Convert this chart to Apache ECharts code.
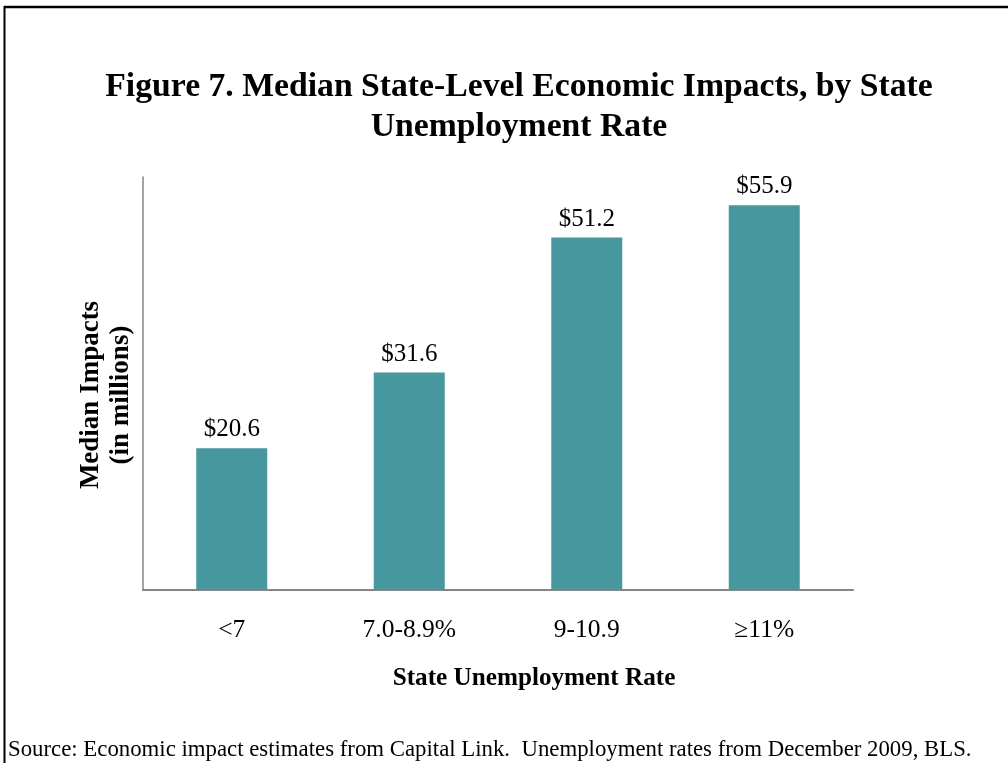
<!DOCTYPE html>
<html>
<head>
<meta charset="utf-8">
<script src="https://cdn.jsdelivr.net/npm/echarts@6/dist/echarts.min.js"></script>
<style>
html,body{margin:0;padding:0;background:#fff;}
#chart{width:1008px;height:763px;}
</style>
</head>
<body>
<div id="chart"></div>
<script>
const categories = ['<7', '7.0-8.9%', '9-10.9', '\u226511%'];
const values = [20.6, 31.6, 51.2, 55.9];
const titleText = 'Figure 7. Median State-Level Economic Impacts, by State\nUnemployment Rate';
const yAxisTitle = 'Median Impacts\n(in millions)';
const xAxisTitle = 'State Unemployment Rate';
const sourceText = 'Source: Economic impact estimates from Capital Link.  Unemployment rates from December 2009, BLS.';

const FONT = '"Liberation Serif", "Times New Roman", serif';
const chart = echarts.init(document.getElementById('chart'), null, {renderer: 'canvas'});
chart.setOption({
  backgroundColor: '#ffffff',
  animation: false,
  title: {
    text: titleText,
    left: 514, top: 62, textAlign: 'center',
    textStyle: {fontFamily: FONT, fontWeight: 'bold', fontSize: 33.7, lineHeight: 40, color: '#000'}
  },
  grid: {left: 143, right: 155, top: 177, bottom: 173, containLabel: false},
  xAxis: {
    type: 'category',
    data: categories,
    axisLine: {lineStyle: {color: '#868686', width: 2}},
    axisTick: {show: false},
    axisLabel: {fontFamily: FONT, fontSize: 25.5, color: '#000', margin: 27},
    name: xAxisTitle,
    nameLocation: 'middle',
    nameGap: 76,
    nameTextStyle: {fontFamily: FONT, fontSize: 25.2, fontWeight: 'bold', color: '#000', padding: [0, 0, 0, 72]}
  },
  yAxis: {
    type: 'value',
    min: 0, max: 60,
    axisLine: {show: true, lineStyle: {color: '#868686', width: 1.5}},
    axisTick: {show: false},
    axisLabel: {show: false},
    splitLine: {show: false}
  },
  series: [{
    type: 'bar',
    data: values,
    barWidth: '40%',
    itemStyle: {color: '#46979e'},
    label: {
      show: true, position: 'top', distance: 6,
      fontFamily: FONT, fontSize: 25, color: '#000',
      formatter: p => '$' + p.value.toFixed(1)
    }
  }],
  graphic: [
    {type: 'line', shape: {x1: 4, y1: 7, x2: 1008, y2: 7}, style: {stroke: '#000', lineWidth: 2.5}},
    {type: 'line', shape: {x1: 4.5, y1: 6, x2: 4.5, y2: 763}, style: {stroke: '#000', lineWidth: 2}},
    {type: 'text', x: 106, y: 395, rotation: Math.PI / 2, style: {
      text: yAxisTitle, fontFamily: FONT, fontWeight: 'bold', fontSize: 27, lineHeight: 30,
      fill: '#000', align: 'center', verticalAlign: 'middle'}},
    {type: 'text', left: 8, top: 739, style: {
      text: sourceText, fontFamily: FONT, fontSize: 22.8, fill: '#000'}}
  ]
});
</script>
</body>
</html>
